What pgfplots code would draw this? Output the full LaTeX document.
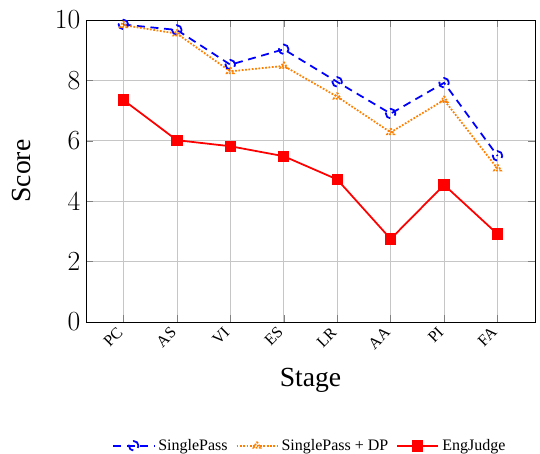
\documentclass[border=0pt]{standalone}
\usepackage{fontspec}
\setmainfont{Liberation Serif}
\usepackage{pgfplots}
\pgfplotsset{compat=1.18}
\begin{document}
\begin{tikzpicture}
\useasboundingbox (-53.75pt,-82.5pt) rectangle (283.75pt,201.25pt);
\begin{axis}[
  at={(0,0)}, anchor=south west,
  scale only axis,
  width=280.6pt, height=188.75pt,
  ymin=0, ymax=10,
  xmin=-0.7, xmax=7.7,
  xtick={0,...,7},
  xticklabels={PC,AS,VI,ES,LR,AA,PI,FA},
  x tick label style={rotate=45, anchor=east, xshift=-1.5pt, yshift=-2pt, font=\normalsize},
  y tick label style={font=\LARGE},
  ytick={0,2,4,6,8,10},
  grid=major,
  major grid style={gray!45},
  xlabel={\LARGE Stage},
  ylabel={\LARGE Score},
  xlabel style={at={(axis description cs:0.5,-0.192)}, anchor=center},
  ylabel style={at={(axis description cs:-0.143,0.5)}, anchor=center},
  legend columns=3,
  legend image code/.code={\draw[mark repeat=2,mark phase=2]
    plot coordinates {(0cm,0cm) (0.45cm,0cm) (0.9cm,0cm)};},
  legend style={at={(0.5,-0.41)}, anchor=center, draw=none, font=\normalsize,
    /tikz/every even column/.append style={column sep=3pt}},
  legend cell align={left},
]
\addplot[color=blue, dash pattern=on 5pt off 3.5pt, line width=1.1pt, mark=o, mark size=3pt] coordinates {
  (0,9.85) (1,9.67) (2,8.52) (3,9.03) (4,7.95) (5,6.9) (6,7.92) (7,5.5)
};
\addplot[color=orange, densely dotted, line width=1.1pt, mark=triangle, mark size=2.5pt] coordinates {
  (0,9.83) (1,9.55) (2,8.3) (3,8.48) (4,7.46) (5,6.28) (6,7.35) (7,5.08)
};
\addplot[color=red, line width=1.1pt, mark=square*, mark size=3pt] coordinates {
  (0,7.35) (1,6.02) (2,5.82) (3,5.49) (4,4.72) (5,2.75) (6,4.54) (7,2.91)
};
\legend{SinglePass, SinglePass + DP, EngJudge}
\end{axis}
\end{tikzpicture}
\end{document}
